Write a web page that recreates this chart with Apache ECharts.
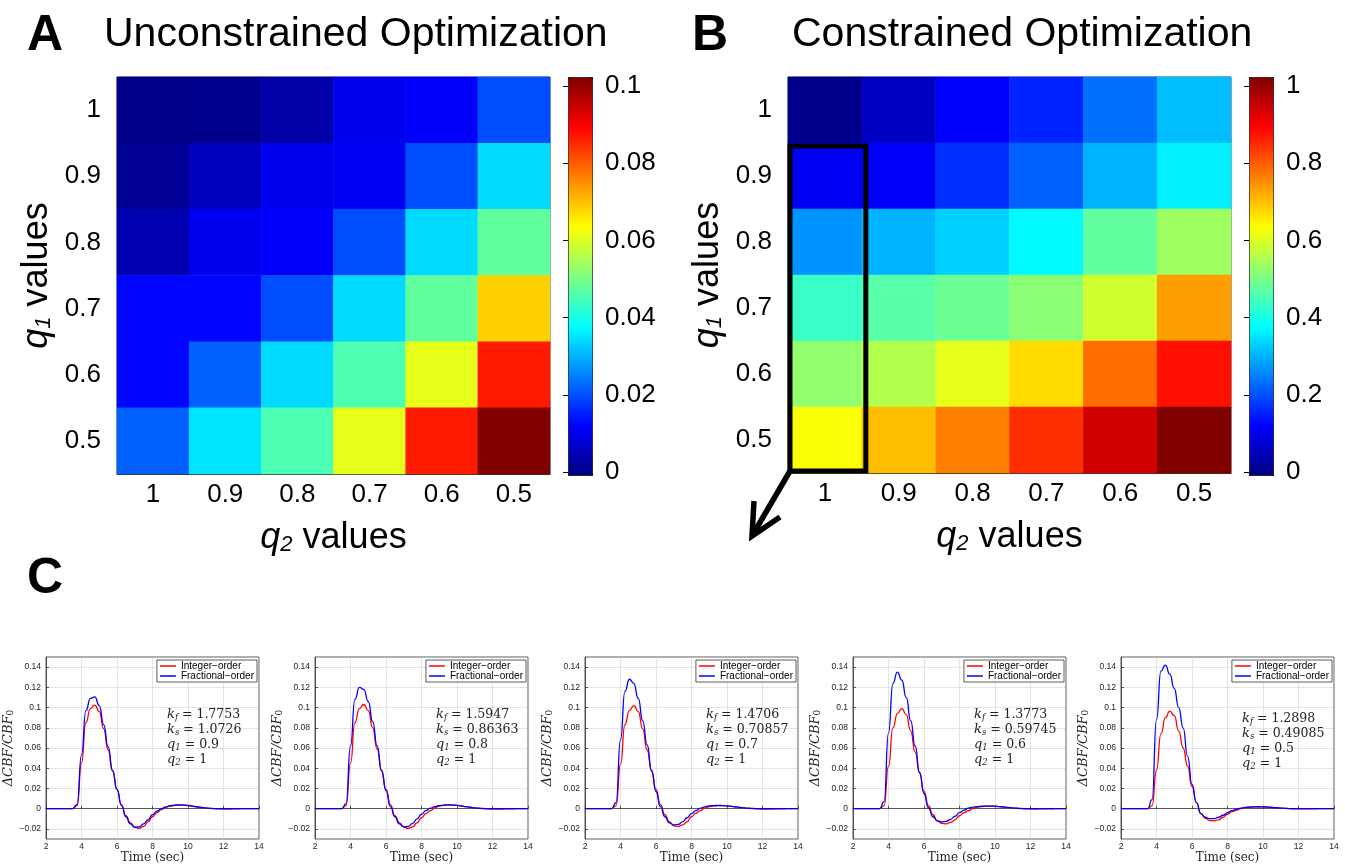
<!DOCTYPE html>
<html>
<head>
<meta charset="utf-8">
<script src="https://cdn.jsdelivr.net/npm/echarts@6/dist/echarts.min.js"></script>
<style>
  html, body { margin: 0; padding: 0; background: #fff; }
  #main { width: 1345px; height: 865px; }
</style>
</head>
<body>
<div id="main"></div>
<script>
/*
 * 数据
 */
var q2Cats = ['1', '0.9', '0.8', '0.7', '0.6', '0.5'];
var q1Cats = ['0.5', '0.6', '0.7', '0.8', '0.9', '1'];

// rows: q1 = 1 (top) ... q1 = 0.5 (bottom); columns: q2 = 1 ... 0.5
var errUnconstrained = [
  [0.001, 0.0015, 0.004, 0.011, 0.012, 0.020],
  [0.002, 0.006, 0.011, 0.0115, 0.020, 0.034],
  [0.005, 0.011, 0.012, 0.020, 0.034, 0.047],
  [0.013, 0.013, 0.020, 0.034, 0.047, 0.067],
  [0.013, 0.022, 0.034, 0.045, 0.060, 0.085],
  [0.022, 0.035, 0.045, 0.060, 0.085, 0.100]
];
var errConstrained = [
  [0.01, 0.065, 0.125, 0.16, 0.235, 0.31],
  [0.115, 0.12, 0.17, 0.22, 0.30, 0.36],
  [0.27, 0.30, 0.33, 0.37, 0.47, 0.53],
  [0.43, 0.46, 0.48, 0.51, 0.58, 0.72],
  [0.52, 0.55, 0.60, 0.66, 0.77, 0.86],
  [0.62, 0.69, 0.75, 0.83, 0.92, 1.0]
];

var timeSec = [2, 2.25, 2.5, 2.75, 3, 3.25, 3.5, 3.75, 4, 4.25, 4.5, 4.75, 5, 5.25, 5.5, 5.75, 6, 6.25,
  6.5, 6.75, 7, 7.25, 7.5, 7.75, 8, 8.25, 8.5, 8.75, 9, 9.25, 9.5, 9.75, 10, 10.25, 10.5, 10.75,
  11, 11.25, 11.5, 11.75, 12, 12.25, 12.5, 12.75, 13, 13.25, 13.5, 13.75, 14];

var intOrder1 = [0, 0, 0, 0, 0, 0, 0,
  0.003, 0.045, 0.085, 0.099, 0.1025, 0.096, 0.079, 0.058, 0.037, 0.019, 0.004, -0.007, -0.014, -0.018, -0.0195,
  -0.0175, -0.013, -0.008, -0.004, -0.001, 0.0012, 0.0025, 0.0032, 0.0036, 0.0035, 0.003, 0.0024, 0.0018, 0.0012, 0.0006, 0.0002, 0,
  -0.0003, -0.0004, -0.0004, -0.0003, -0.0002, 0, 0, 0, 0, 0];
var fracOrder1 = [0, 0, 0, 0, 0, 0, 0,
  0.004, 0.053, 0.097, 0.109, 0.1105, 0.102, 0.083, 0.061, 0.038, 0.019, 0.003, -0.008, -0.015, -0.0185, -0.018,
  -0.015, -0.011, -0.006, -0.0025, 0, 0.0018, 0.003, 0.0036, 0.0038, 0.0036, 0.0032, 0.0026, 0.0019, 0.0013, 0.0007, 0.0003, 0.0001,
  0, 0, 0, 0, 0, 0, 0, 0, 0, 0];

var intOrder2 = [0, 0, 0, 0, 0, 0, 0,
  0.003, 0.045, 0.085, 0.099, 0.103, 0.097, 0.08, 0.059, 0.037, 0.019, 0.004, -0.007, -0.014, -0.018, -0.0195,
  -0.018, -0.014, -0.009, -0.005, -0.002, 0.0008, 0.0025, 0.0033, 0.0037, 0.0036, 0.0033, 0.0027, 0.002, 0.0013, 0.0007, 0.0002, 0,
  -0.0003, -0.0005, -0.0005, -0.0004, -0.0003, -0.0002, -0.0001, 0, 0, 0];
var fracOrder2 = [0, 0, 0, 0, 0, 0, 0,
  0.005, 0.062, 0.108, 0.12, 0.118, 0.106, 0.086, 0.062, 0.038, 0.018, 0.002, -0.008, -0.015, -0.018, -0.0175,
  -0.0145, -0.01, -0.0055, -0.002, 0.0005, 0.002, 0.003, 0.0036, 0.0038, 0.0036, 0.0033, 0.0027, 0.002, 0.0014, 0.0008, 0.0004, 0.0002,
  0, 0, 0, 0, 0, 0, 0, 0, 0, 0];

var intOrder3 = [0, 0, 0, 0, 0, 0, 0,
  0.003, 0.044, 0.083, 0.097, 0.102, 0.096, 0.079, 0.058, 0.037, 0.019, 0.004, -0.006, -0.013, -0.017, -0.0175,
  -0.016, -0.013, -0.008, -0.0045, -0.002, 0.0005, 0.002, 0.0027, 0.003, 0.003, 0.0028, 0.0023, 0.0017, 0.0011, 0.0006, 0.0002, 0,
  -0.0003, -0.0005, -0.0005, -0.0004, -0.0003, -0.0002, -0.0001, 0, 0, 0];
var fracOrder3 = [0, 0, 0, 0, 0, 0, 0,
  0.006, 0.068, 0.116, 0.128, 0.124, 0.109, 0.087, 0.063, 0.038, 0.017, 0.002, -0.008, -0.014, -0.016, -0.0155,
  -0.013, -0.009, -0.005, -0.002, 0.0005, 0.0018, 0.0028, 0.0031, 0.0032, 0.0031, 0.0028, 0.0023, 0.0018, 0.0013, 0.0008, 0.0004, 0.0002,
  0, 0, 0, 0, 0, 0, 0, 0, 0, 0];

var intOrder4 = [0, 0, 0, 0, 0, 0, 0,
  0.003, 0.042, 0.08, 0.094, 0.099, 0.093, 0.077, 0.056, 0.035, 0.017, 0.003, -0.006, -0.012, -0.0145, -0.015,
  -0.0135, -0.011, -0.007, -0.004, -0.002, 0, 0.0015, 0.0021, 0.0025, 0.0025, 0.0024, 0.002, 0.0015, 0.001, 0.0006, 0.0002, 0,
  -0.0002, -0.0004, -0.0004, -0.0003, -0.0003, -0.0002, -0.0001, 0, 0, 0];
var fracOrder4 = [0, 0, 0, 0, 0, 0, 0,
  0.007, 0.075, 0.124, 0.135, 0.127, 0.11, 0.087, 0.062, 0.036, 0.015, 0.001, -0.008, -0.012, -0.013, -0.0125,
  -0.0105, -0.0075, -0.004, -0.0015, 0.0005, 0.0015, 0.002, 0.0024, 0.0026, 0.0026, 0.0025, 0.0021, 0.0017, 0.0012, 0.0008, 0.0004, 0.0002,
  0, 0, 0, 0, 0, 0, 0, 0, 0, 0];

var intOrder5 = [0, 0, 0, 0, 0, 0, 0,
  0.003, 0.038, 0.074, 0.09, 0.0965, 0.092, 0.077, 0.06, 0.042, 0.022, 0.006, -0.005, -0.0095, -0.0118, -0.012,
  -0.011, -0.0085, -0.0055, -0.003, -0.0015, 0, 0.001, 0.0015, 0.0018, 0.0019, 0.0018, 0.0015, 0.0012, 0.0008, 0.0005, 0.0002, 0,
  -0.0002, -0.0003, -0.0003, -0.0002, -0.0002, -0.0001, 0, 0, 0, 0];
var fracOrder5 = [0, 0, 0, 0, 0, 0, 0,
  0.009, 0.088, 0.136, 0.142, 0.133, 0.119, 0.1, 0.08, 0.052, 0.024, 0.006, -0.005, -0.0085, -0.0098, -0.0098,
  -0.0085, -0.0065, -0.004, -0.002, -0.0005, 0.0005, 0.0012, 0.0016, 0.0018, 0.0019, 0.0018, 0.0016, 0.0013, 0.0009, 0.0006, 0.0003, 0.0001,
  0, 0, 0, 0, 0, 0, 0, 0, 0, 0];

var kfVals = ['1.7753', '1.5947', '1.4706', '1.3773', '1.2898'];
var ksVals = ['1.0726', '0.86363', '0.70857', '0.59745', '0.49085'];
var q1Vals = ['0.9', '0.8', '0.7', '0.6', '0.5'];
var q2Vals = ['1', '1', '1', '1', '1'];

var intSeries = [intOrder1, intOrder2, intOrder3, intOrder4, intOrder5];
var fracSeries = [fracOrder1, fracOrder2, fracOrder3, fracOrder4, fracOrder5];

/*
 * 样式
 */
var SANS = "'Liberation Sans', Arial, sans-serif";
var SERIF = "'DejaVu Serif', serif";
var jet = ['#000080', '#0000FF', '#0080FF', '#00FFFF', '#80FF80', '#FFFF00', '#FF8000', '#FF0000', '#800000'];
var INT_NAME = 'Integer\u2212order';
var FRAC_NAME = 'Fractional\u2212order';

var panelLefts = [46, 315, 585, 853, 1121];
var panelW = 213, panelTop = 657, panelH = 182;

// 热图数据 -> [x, y, value]
function toCells(rows) {
  var out = [];
  rows.forEach(function (row, r) {
    row.forEach(function (v, c) {
      out.push([c, rows.length - 1 - r, v]);
    });
  });
  return out;
}

function pairs(xs, ys) {
  return xs.map(function (x, i) { return [x, ys[i]]; });
}

var bigName = {
  fontSize: 36, fontFamily: SANS, color: '#000',
  rich: {
    q: { fontSize: 36, fontFamily: SANS, fontStyle: 'italic', color: '#000' },
    s: { fontSize: 22, fontFamily: SANS, fontStyle: 'italic', color: '#000', verticalAlign: 'bottom', lineHeight: 14 }
  }
};
var bigLabel = { fontSize: 26, fontFamily: SANS, color: '#000' };

var grids = [
  { left: 117, top: 77, width: 433, height: 397, show: true, borderColor: '#444', borderWidth: 1 },
  { left: 788, top: 77, width: 443, height: 396, show: true, borderColor: '#444', borderWidth: 1 },
  { left: 568, top: 86, width: 24, height: 386 },
  { left: 1249, top: 86, width: 24, height: 386 }
];
var xAxes = [
  { gridIndex: 0, type: 'category', data: q2Cats, name: '{q|q}{s|2} values', nameLocation: 'middle', nameGap: 46,
    nameTextStyle: bigName, axisLabel: Object.assign({ margin: 8 }, bigLabel), axisTick: { show: false },
    axisLine: { lineStyle: { color: '#333', width: 1 } }, splitLine: { show: false } },
  { gridIndex: 1, type: 'category', data: q2Cats, name: '{q|q}{s|2} values', nameLocation: 'middle', nameGap: 46,
    nameTextStyle: bigName, axisLabel: Object.assign({ margin: 8 }, bigLabel), axisTick: { show: false },
    axisLine: { lineStyle: { color: '#333', width: 1 } }, splitLine: { show: false } },
  { gridIndex: 2, type: 'value', show: false },
  { gridIndex: 3, type: 'value', show: false }
];
var yAxes = [
  { gridIndex: 0, type: 'category', data: q1Cats, name: '{q|q}{s|1} values', nameLocation: 'middle', nameGap: 62,
    nameRotate: 90, nameTextStyle: bigName, axisLabel: Object.assign({ margin: 16 }, bigLabel),
    axisTick: { show: false }, axisLine: { show: false }, splitLine: { show: false } },
  { gridIndex: 1, type: 'category', data: q1Cats, name: '{q|q}{s|1} values', nameLocation: 'middle', nameGap: 62,
    nameRotate: 90, nameTextStyle: bigName, axisLabel: Object.assign({ margin: 16 }, bigLabel),
    axisTick: { show: false }, axisLine: { show: false }, splitLine: { show: false } }
];

// 色条刻度
function colorbarAxes(gridIndex, max) {
  var fmt = function (v) { return String(+v.toFixed(3)); };
  return [
    { gridIndex: gridIndex, type: 'value', position: 'right', min: 0, max: max, interval: max / 5,
      axisLabel: Object.assign({ margin: 13, formatter: fmt }, bigLabel),
      axisTick: { inside: true, length: 5, lineStyle: { color: '#000' } },
      axisLine: { show: false }, splitLine: { show: false } },
    { gridIndex: gridIndex, type: 'value', position: 'left', min: 0, max: max, interval: max / 5,
      axisLabel: { show: false }, axisTick: { inside: true, length: 5, lineStyle: { color: '#000' } },
      axisLine: { show: false }, splitLine: { show: false } }
  ];
}
yAxes = yAxes.concat(colorbarAxes(2, 0.1), colorbarAxes(3, 1));

var series = [
  { type: 'heatmap', xAxisIndex: 0, yAxisIndex: 0, data: toCells(errUnconstrained),
    itemStyle: { borderWidth: 0 }, emphasis: { disabled: true } },
  { type: 'heatmap', xAxisIndex: 1, yAxisIndex: 1, data: toCells(errConstrained),
    itemStyle: { borderWidth: 0 }, emphasis: { disabled: true } }
];
var legends = [];
var graphics = [];

var dotted = { show: true, lineStyle: { type: 'dotted', color: '#bbb', width: 0.8 } };
var tickStyle = { inside: true, length: 3, lineStyle: { color: '#333', width: 0.8 } };

panelLefts.forEach(function (left, i) {
  grids.push({ left: left, top: panelTop, width: panelW, height: panelH, show: true,
    borderColor: '#333', borderWidth: 0.8 });
  xAxes.push({ gridIndex: 4 + i, type: 'value', min: 2, max: 14, interval: 2,
    name: 'Time (sec)', nameLocation: 'middle', nameGap: 12,
    nameTextStyle: { fontFamily: SERIF, fontSize: 12, color: '#222' },
    axisLabel: { fontSize: 8.5, fontFamily: SANS, color: '#222', margin: 3 },
    axisTick: tickStyle, axisLine: { lineStyle: { color: '#333', width: 0.8 } }, splitLine: dotted });
  // y 轴 -0.03 ~ 0.15，刻度 0.02（由 splitNumber 得到）
  yAxes.push({ gridIndex: 4 + i, type: 'value', min: -0.03, max: 0.15, splitNumber: 9,
    name: '{n|\u0394CBF/CBF}{s|0}', nameLocation: 'middle', nameGap: 23, nameRotate: 90,
    nameTextStyle: { fontFamily: SERIF, fontSize: 13, color: '#222',
      rich: { n: { fontFamily: SERIF, fontStyle: 'italic', fontSize: 13, color: '#222' },
              s: { fontFamily: SERIF, fontSize: 9, color: '#222', verticalAlign: 'bottom', lineHeight: 6 } } },
    axisLabel: { fontSize: 8.5, fontFamily: SANS, color: '#222', margin: 5,
      showMinLabel: false, showMaxLabel: false,
      formatter: function (v) {
        var k = v / 0.02;
        if (Math.abs(k - Math.round(k)) > 1e-6) return '';
        var s = String(+v.toFixed(2));
        return s.replace('-', '\u2212');
      } },
    axisTick: tickStyle, axisLine: { lineStyle: { color: '#333', width: 0.8 } }, splitLine: dotted });

  series.push({ name: INT_NAME, type: 'line', xAxisIndex: 4 + i, yAxisIndex: 6 + i,
    data: pairs(timeSec, intSeries[i]), showSymbol: false, smooth: 0.55, smoothMonotone: 'x',
    lineStyle: { color: '#ff0000', width: 1.3 }, itemStyle: { color: '#ff0000' } });
  series.push({ name: FRAC_NAME, type: 'line', xAxisIndex: 4 + i, yAxisIndex: 6 + i,
    data: pairs(timeSec, fracSeries[i]), showSymbol: false, smooth: 0.55, smoothMonotone: 'x',
    lineStyle: { color: '#0000ff', width: 1.3 }, itemStyle: { color: '#0000ff' } });

  legends.push({ right: 1345 - (left + panelW) + 2, top: panelTop + 3, orient: 'vertical',
    data: [INT_NAME, FRAC_NAME], icon: 'rect', itemWidth: 16, itemHeight: 1.5, itemGap: 0,
    padding: [1, 3, 1, 3], borderColor: '#333', borderWidth: 0.8, backgroundColor: '#fff',
    selectedMode: false, textStyle: { fontSize: 10, fontFamily: SANS, color: '#000' } });

  var lines = [
    '{i|k}{s|f} = ' + kfVals[i],
    '{i|k}{s|s} = ' + ksVals[i],
    '{i|q}{s|1} = ' + q1Vals[i],
    '{i|q}{s|2} = ' + q2Vals[i]
  ];
  graphics.push({ type: 'text', left: left + 121, top: i === 4 ? 711 : 707, z: 100,
    style: { text: lines.join('\n'), font: '12.5px ' + SERIF, fill: '#222', lineHeight: 15,
      rich: { i: { fontFamily: SERIF, fontStyle: 'italic', fontSize: 13, fill: '#222', lineHeight: 15 },
              s: { fontFamily: SERIF, fontStyle: 'italic', fontSize: 8.5, fill: '#222', verticalAlign: 'bottom', lineHeight: 7 } } } });
});

var titles = [
  { text: 'A', left: 27, top: 11, textStyle: { fontSize: 50, fontWeight: 'bold', fontFamily: SANS, color: '#000' } },
  { text: 'Unconstrained Optimization', left: 104, top: 14, textStyle: { fontSize: 41, fontWeight: 'normal', fontFamily: SANS, color: '#000' } },
  { text: 'B', left: 692, top: 11, textStyle: { fontSize: 50, fontWeight: 'bold', fontFamily: SANS, color: '#000' } },
  { text: 'Constrained Optimization', left: 792, top: 14, textStyle: { fontSize: 41, fontWeight: 'normal', fontFamily: SANS, color: '#000' } },
  { text: 'C', left: 27, top: 554, textStyle: { fontSize: 50, fontWeight: 'bold', fontFamily: SANS, color: '#000' } }
];
titles.forEach(function (t) { t.padding = 0; });

var option = {
  animation: false,
  backgroundColor: '#fff',
  title: titles,
  grid: grids,
  xAxis: xAxes,
  yAxis: yAxes,
  legend: legends,
  visualMap: [
    { type: 'continuous', seriesIndex: 0, min: 0, max: 0.1, left: 568, top: 77, itemWidth: 24, itemHeight: 398,
      inRange: { color: jet }, calculable: false, hoverLink: false, padding: 0, text: null,
      borderColor: '#000', borderWidth: 1 },
    { type: 'continuous', seriesIndex: 1, min: 0, max: 1, left: 1249, top: 77, itemWidth: 24, itemHeight: 398,
      inRange: { color: jet }, calculable: false, hoverLink: false, padding: 0, text: null,
      borderColor: '#000', borderWidth: 1 }
  ],
  graphic: graphics,
  series: series
};

var chart = echarts.init(document.getElementById('main'));
chart.setOption(option);

// B 图中的黑框和箭头，位置取自坐标轴
var finder = { xAxisIndex: 1, yAxisIndex: 1 };
var c09 = chart.convertToPixel(finder, [0, 4]);
var c05 = chart.convertToPixel(finder, [0, 0]);
var cNext = chart.convertToPixel(finder, [1, 5]);
var hw = (cNext[0] - c09[0]) / 2;
var hh = (c09[1] - cNext[1]) / 2;
var x0 = c09[0] - hw + 2, x1 = c09[0] + hw + 4;
var y0 = c09[1] - hh + 3, y1 = c05[1] + hh - 2;
var tip = [x0 - 38, y1 + 65];
graphics.push({ type: 'rect', z: 100, shape: { x: x0, y: y0, width: x1 - x0, height: y1 - y0 },
  style: { fill: 'none', stroke: '#000', lineWidth: 5 } });
graphics.push({ type: 'polyline', z: 100, shape: { points: [[x0, y1], tip] },
  style: { fill: 'none', stroke: '#000', lineWidth: 5.5 } });
graphics.push({ type: 'polyline', z: 100, shape: { points: [[tip[0] + 2, tip[1] - 35], tip, [tip[0] + 28, tip[1] - 19]] },
  style: { fill: 'none', stroke: '#000', lineWidth: 5.5, lineJoin: 'miter' } });
chart.setOption({ graphic: graphics });
</script>
</body>
</html>
